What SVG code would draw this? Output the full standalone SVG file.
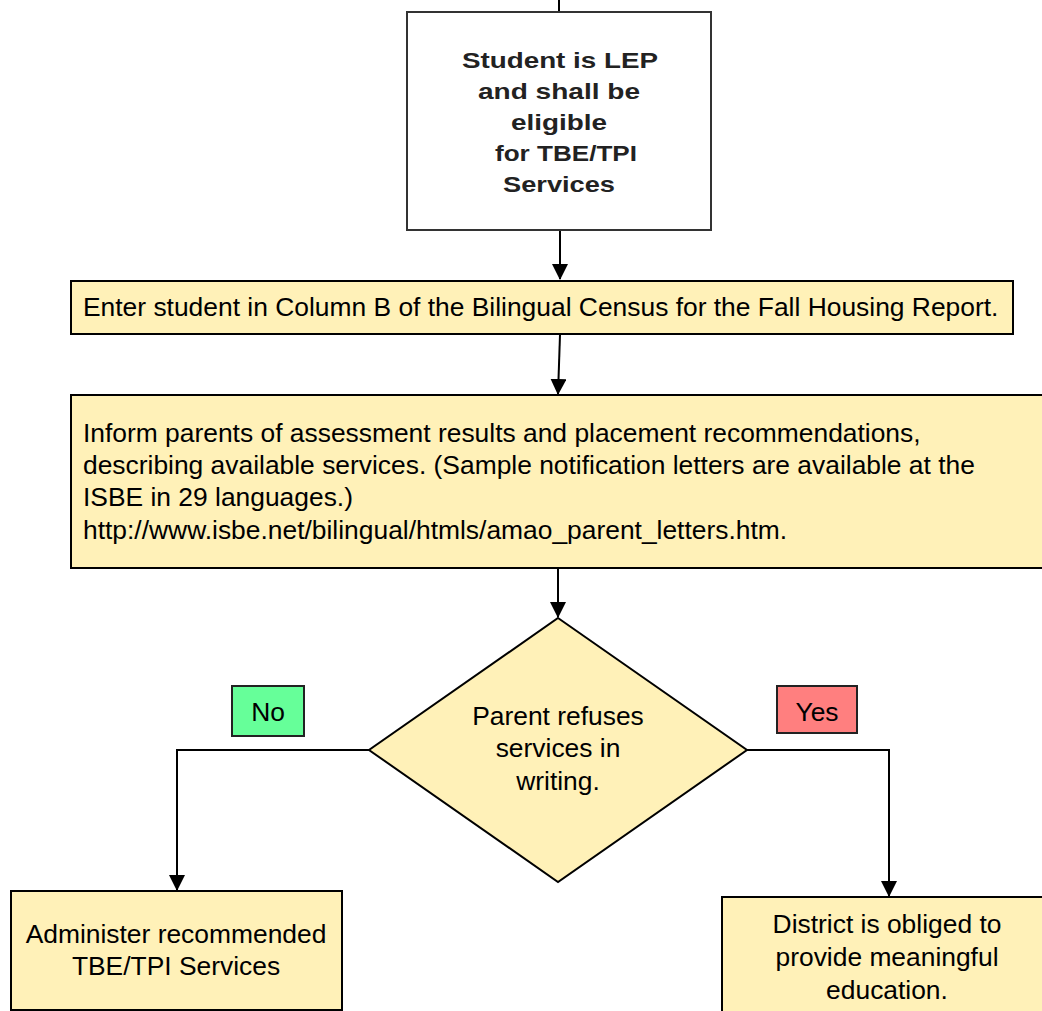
<svg xmlns="http://www.w3.org/2000/svg" width="1042" height="1011" viewBox="0 0 1042 1011">
<defs>
<marker id="arr" markerWidth="16" markerHeight="16" refX="15" refY="8" orient="auto" markerUnits="userSpaceOnUse">
<path d="M0,0 L16,8 L0,16 Z" fill="#000"/>
</marker>
<style>
.box{fill:#FFF1B8;stroke:#000;stroke-width:2}
.t{font-family:"Liberation Sans",Arial,sans-serif;font-size:26.4px;fill:#000}
.c{text-anchor:middle}
.b{font-weight:bold;font-size:22px;fill:#222}
.con{fill:none;stroke:#000;stroke-width:2}
</style>
</defs>
<rect width="1042" height="1011" fill="#fff"/>
<g id="connectors">
<line class="con" x1="559" y1="0" x2="559" y2="11"/>
<line class="con" x1="560" y1="231" x2="560" y2="279" marker-end="url(#arr)"/>
<line class="con" x1="560" y1="335" x2="558" y2="394" marker-end="url(#arr)"/>
<line class="con" x1="558" y1="569" x2="558" y2="617" marker-end="url(#arr)"/>
<polyline class="con" points="369,750 177,750 177,890" marker-end="url(#arr)"/>
<polyline class="con" points="747,750 889,750 889,896" marker-end="url(#arr)"/>
</g>
<g id="n-lep">
<rect x="407" y="12" width="304" height="218" fill="#fff" stroke="#333" stroke-width="2"/>
<text class="t b" x="462" y="68" textLength="196" lengthAdjust="spacingAndGlyphs">Student is LEP</text>
<text class="t b" x="478" y="99" textLength="162" lengthAdjust="spacingAndGlyphs">and shall be</text>
<text class="t b" x="511" y="130" textLength="96" lengthAdjust="spacingAndGlyphs">eligible</text>
<text class="t b" x="495" y="161" textLength="142" lengthAdjust="spacingAndGlyphs">for TBE/TPI</text>
<text class="t b" x="503" y="192" textLength="112" lengthAdjust="spacingAndGlyphs">Services</text>
</g>
<g id="n-enter">
<rect class="box" x="71" y="281" width="942" height="53"/>
<text class="t" x="83" y="316">Enter student in Column B of the Bilingual Census for the Fall Housing Report.</text>
</g>
<g id="n-inform">
<rect class="box" x="71" y="395" width="990" height="173"/>
<text class="t" x="83" y="442">Inform parents of assessment results and placement recommendations,</text>
<text class="t" x="83" y="474">describing available services. (Sample notification letters are available at the</text>
<text class="t" x="83" y="506">ISBE in 29 languages.)</text>
<text class="t" x="83" y="539">http://www.isbe.net/bilingual/htmls/amao_parent_letters.htm.</text>
</g>
<g id="n-decision">
<polygon class="box" points="558,618 747,750 558,882 369,750"/>
<text class="t c" x="558" y="725">Parent refuses</text>
<text class="t c" x="558" y="757">services in</text>
<text class="t c" x="558" y="790">writing.</text>
</g>
<g id="l-no">
<rect x="232" y="686" width="72" height="50" fill="#66FF99" stroke="#222" stroke-width="2"/>
<text class="t c" x="268" y="721">No</text>
</g>
<g id="l-yes">
<rect x="777" y="686" width="80" height="47" fill="#FF7F7F" stroke="#222" stroke-width="2"/>
<text class="t c" x="817" y="721">Yes</text>
</g>
<g id="n-administer">
<rect class="box" x="11" y="891" width="331" height="119"/>
<text class="t c" x="176" y="943">Administer recommended</text>
<text class="t c" x="176" y="975">TBE/TPI Services</text>
</g>
<g id="n-district">
<rect class="box" x="722" y="897" width="340" height="140"/>
<text class="t c" x="887" y="933">District is obliged to</text>
<text class="t c" x="887" y="966">provide meaningful</text>
<text class="t c" x="887" y="999">education.</text>
</g>
</svg>
